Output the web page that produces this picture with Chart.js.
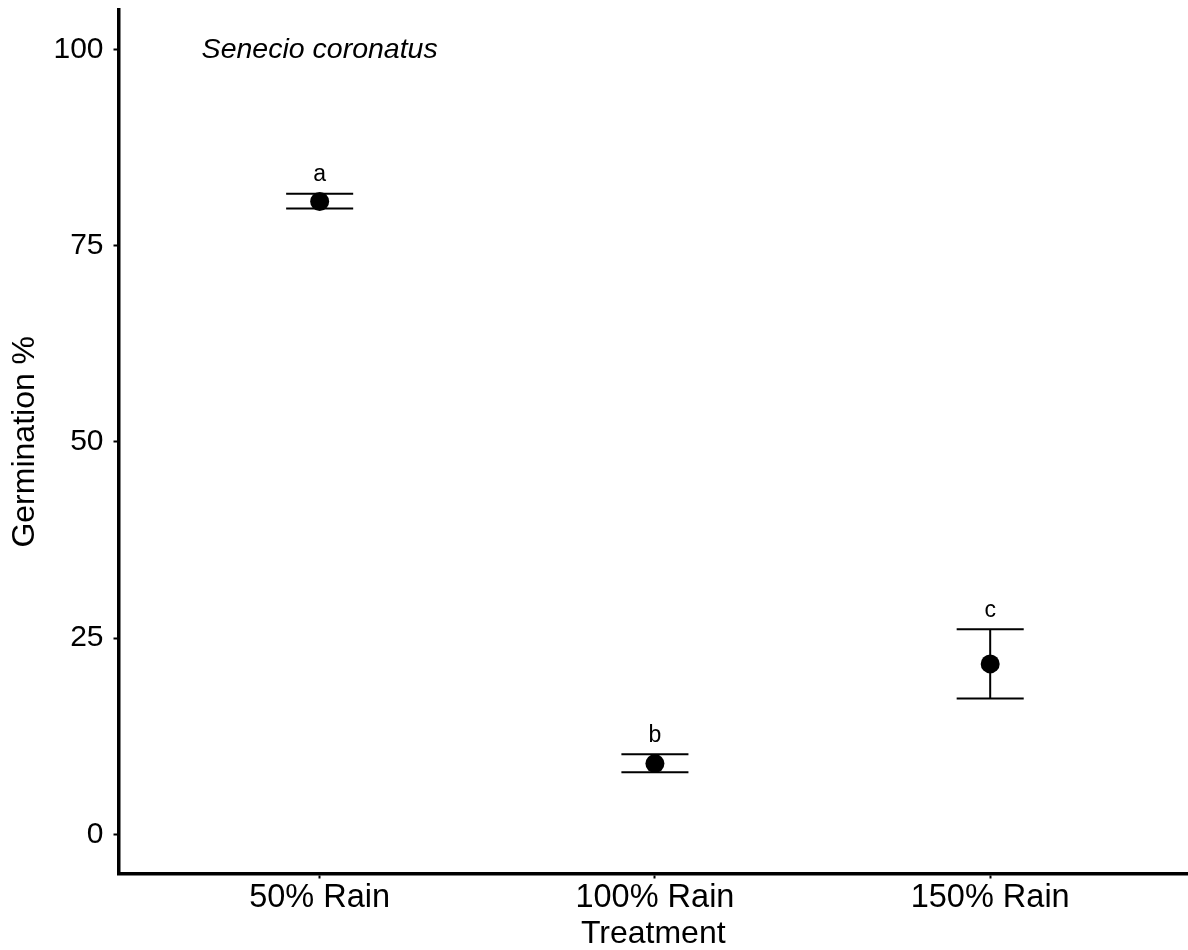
<!DOCTYPE html>
<html>
<head>
<meta charset="utf-8">
<script src="https://cdn.jsdelivr.net/npm/chart.js@4"></script>
<style>
  html, body { margin: 0; padding: 0; background: #ffffff; }
  #wrap { width: 1188px; height: 950px; position: relative; }
</style>
</head>
<body>
<div id="wrap"><canvas id="c" width="1188" height="950"></canvas></div>
<script>
// ---- data ----
const treatments = ['50% Rain', '100% Rain', '150% Rain'];
const germMean  = [80.6, 9.0, 21.7];
const germUpper = [81.6, 10.2, 26.1];
const germLower = [79.7, 7.9, 17.3];
const groupLetters = ['a', 'b', 'c'];
const yTicks = [0, 25, 50, 75, 100];
const speciesLabel = 'Senecio coronatus';
const yTitle = 'Germination %';
const xTitle = 'Treatment';

const FONT = '"Liberation Sans", Arial, Helvetica, sans-serif';

const points = germMean.map((m, i) => ({ x: i + 1, y: m }));

const errorBarPlugin = {
  id: 'errorBars',
  beforeDatasetsDraw(chart) {
    const { ctx, scales: { x, y } } = chart;
    ctx.save();
    ctx.strokeStyle = '#000';
    ctx.lineWidth = 2;
    ctx.lineCap = 'butt';
    const halfW = 0.1;
    germMean.forEach((m, i) => {
      const cx = x.getPixelForValue(i + 1);
      const xl = x.getPixelForValue(i + 1 - halfW);
      const xr = x.getPixelForValue(i + 1 + halfW);
      const yt = y.getPixelForValue(germUpper[i]);
      const yb = y.getPixelForValue(germLower[i]);
      ctx.beginPath();
      ctx.moveTo(cx, yt); ctx.lineTo(cx, yb);
      ctx.moveTo(xl, yt); ctx.lineTo(xr, yt);
      ctx.moveTo(xl, yb); ctx.lineTo(xr, yb);
      ctx.stroke();
    });
    ctx.restore();
  },
  afterDatasetsDraw(chart) {
    const { ctx, scales: { x, y } } = chart;
    ctx.save();
    ctx.fillStyle = '#000';
    ctx.textAlign = 'center';
    ctx.textBaseline = 'middle';
    ctx.font = '23px ' + FONT;
    groupLetters.forEach((l, i) => {
      ctx.fillText(l, x.getPixelForValue(i + 1), y.getPixelForValue(germUpper[i]) - 19);
    });
    ctx.font = 'italic 28.5px ' + FONT;
    ctx.fillText(speciesLabel, x.getPixelForValue(1), y.getPixelForValue(100) + 1);
    ctx.restore();
  }
};

function zeroPad(s) {
  s.paddingTop = 0; s.paddingBottom = 0; s.paddingLeft = 0; s.paddingRight = 0;
}

new Chart(document.getElementById('c'), {
  type: 'scatter',
  data: {
    datasets: [{
      data: points,
      pointRadius: 9.5,
      pointHoverRadius: 9.5,
      pointBackgroundColor: '#000',
      pointBorderWidth: 0,
      borderColor: '#000',
      showLine: false
    }]
  },
  plugins: [errorBarPlugin],
  options: {
    responsive: false,
    devicePixelRatio: 1,
    animation: false,
    layout: { autoPadding: false, padding: { top: 10, right: 0, bottom: 0, left: 0 } },
    plugins: { legend: { display: false }, tooltip: { enabled: false } },
    scales: {
      x: {
        type: 'linear',
        min: 0.4,
        max: 3.59,
        afterBuildTicks: (s) => { s.ticks = treatments.map((t, i) => ({ value: i + 1 })); },
        afterFit: (s) => { s.height = 76.5; zeroPad(s); },
        ticks: {
          callback: (v) => treatments[v - 1] !== undefined ? treatments[v - 1] : '',
          font: { family: FONT, size: 32.5, lineHeight: 1 },
          color: '#000',
          padding: 3,
          maxRotation: 0,
          autoSkip: false
        },
        grid: { display: true, drawOnChartArea: false, drawTicks: true, tickLength: 5, tickWidth: 2, tickColor: '#000' },
        border: { display: true, color: '#000', width: 3.5 },
        title: { display: true, text: xTitle, color: '#000', font: { family: FONT, size: 32, lineHeight: 1 }, padding: { top: 0, bottom: 0 } }
      },
      y: {
        type: 'linear',
        min: -5,
        max: 105,
        afterBuildTicks: (s) => { s.ticks = yTicks.map(v => ({ value: v })); },
        afterFit: (s) => { s.width = 118.5; zeroPad(s); },
        ticks: {
          font: { family: FONT, size: 30, lineHeight: 1 },
          color: '#000',
          padding: 10
        },
        grid: { display: true, drawOnChartArea: false, drawTicks: true, tickLength: 5, tickWidth: 2, tickColor: '#000' },
        border: { display: true, color: '#000', width: 3.5 },
        title: { display: true, text: yTitle, color: '#000', font: { family: FONT, size: 32, lineHeight: 1 }, padding: { top: 9.5, bottom: 0 } }
      }
    }
  }
});
</script>
</body>
</html>
